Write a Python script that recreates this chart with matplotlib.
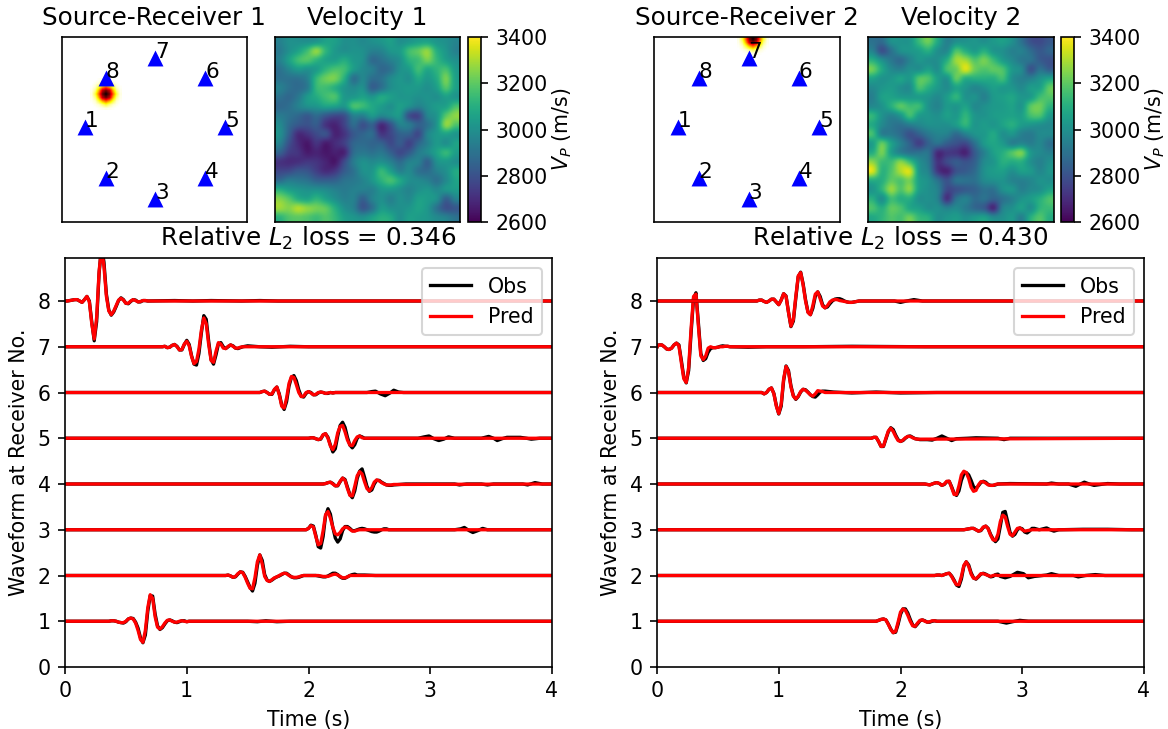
import numpy as np
import matplotlib
matplotlib.use("Agg")
import matplotlib.pyplot as plt

W, H = 1168, 729
DPI = 148

receivers = ['1', '2', '3', '4', '5', '6', '7', '8']
rec_x = [0.127, 0.238, 0.508, 0.778, 0.886, 0.778, 0.508, 0.238]
rec_y = [0.513, 0.24, 0.125, 0.24, 0.513, 0.78, 0.885, 0.78]
source_1 = (0.24, 0.69)
source_2 = (0.53, 0.99)
loss_1 = 0.346
loss_2 = 0.430

# source spot
spot = [
    [0, 0, .01, .02, .03, .02, .01, 0, 0],
    [0, .02, .05, .12, .2, .12, .05, .02, 0],
    [.01, .05, .2, .38, .5, .38, .2, .05, .01],
    [.02, .12, .38, .72, .85, .72, .38, .12, .02],
    [.03, .2, .5, .85, 1, .85, .5, .2, .03],
    [.02, .12, .38, .72, .85, .72, .38, .12, .02],
    [.01, .05, .2, .38, .5, .38, .2, .05, .01],
    [0, .02, .05, .12, .2, .12, .05, .02, 0],
    [0, 0, .01, .02, .03, .02, .01, 0, 0],
]

# velocity maps (m/s) on a coarse grid, top row first
vel_1 = [
    [2950, 3000, 3000, 3000, 3020, 3060, 3050, 3000, 3000, 2980, 3000, 3020, 3050, 3000, 3020, 3050, 3060, 3020, 3000, 2960],
    [2930, 3000, 3060, 3150, 3260, 3120, 3030, 3000, 3010, 3000, 2950, 2960, 3020, 3040, 3150, 3200, 3260, 3100, 3020, 2950],
    [2950, 3050, 3150, 3180, 3120, 3060, 3050, 3090, 3030, 3000, 2880, 2900, 2950, 3000, 3110, 3150, 3230, 3130, 3050, 3000],
    [2900, 2970, 3030, 3010, 3040, 3120, 3170, 3150, 3040, 2980, 2940, 2870, 2900, 3000, 3040, 3150, 3080, 3120, 3160, 3040],
    [2900, 2900, 2900, 2950, 3130, 3220, 3230, 3100, 2900, 2970, 2890, 2900, 2980, 3020, 3000, 3080, 3030, 3090, 3230, 3060],
    [2950, 2900, 2880, 2930, 3130, 3150, 3100, 3020, 2980, 3000, 2850, 2900, 2990, 3020, 3030, 3030, 3000, 3050, 3180, 3060],
    [2900, 2870, 2920, 3030, 3090, 3150, 3170, 3030, 3030, 3060, 3020, 3080, 3050, 3020, 3020, 3000, 3010, 3000, 3050, 3020],
    [2870, 2890, 2950, 3000, 3020, 3060, 3050, 3020, 3160, 3140, 3080, 3040, 3000, 3050, 3000, 2950, 3000, 3040, 3060, 3160],
    [2930, 2900, 2870, 2830, 2880, 2820, 2780, 2800, 2950, 2950, 3030, 2970, 3000, 3020, 2800, 2770, 2960, 3020, 3190, 3260],
    [2980, 2880, 2820, 2800, 2830, 2720, 2680, 2760, 2880, 2800, 2850, 2700, 2800, 2950, 2930, 2850, 2900, 3020, 3260, 3180],
    [3000, 2850, 2700, 2720, 2780, 2800, 2680, 2720, 2820, 2860, 2880, 2730, 2770, 2850, 2850, 2780, 2960, 3030, 3060, 3020],
    [2950, 2800, 2700, 2650, 2720, 2660, 2700, 2750, 2860, 2880, 2860, 2850, 2780, 2830, 2760, 2860, 2950, 3030, 3000, 3060],
    [2850, 2750, 2720, 2660, 2680, 2650, 2670, 2680, 2880, 2920, 2900, 2920, 2850, 2780, 2830, 2930, 2980, 3060, 3130, 3050],
    [2720, 2700, 2710, 2730, 2720, 2680, 2650, 2780, 2930, 3000, 2980, 3000, 2950, 2880, 2950, 2950, 2850, 3000, 3030, 3000],
    [2770, 2780, 2820, 2810, 2750, 2700, 2730, 2830, 2900, 3000, 3020, 3130, 3050, 2950, 2980, 2900, 2880, 2950, 3000, 3080],
    [2880, 2930, 2920, 2900, 2850, 2840, 2850, 2900, 2920, 2960, 3020, 3110, 3160, 3080, 3000, 2980, 2950, 2900, 2980, 3060],
    [3100, 3050, 3020, 3000, 3000, 2980, 2950, 2930, 2950, 2950, 2950, 3020, 3030, 3000, 2960, 3000, 3020, 2980, 3020, 3040],
    [3250, 3190, 3100, 3070, 3120, 3060, 3000, 2950, 2950, 2850, 2950, 3000, 2950, 3000, 2980, 3050, 3040, 3000, 2850, 2950],
    [3280, 3250, 3300, 3260, 3230, 3200, 3100, 3000, 2950, 2820, 2900, 3030, 3000, 3000, 3020, 3060, 3020, 2900, 2800, 2820],
    [3120, 3180, 3200, 3180, 3150, 3180, 3130, 3050, 3020, 3000, 3050, 3100, 3080, 3000, 3050, 3040, 3020, 2980, 2950, 2900],
]
vel_2 = [
    [2900, 2880, 3000, 3010, 3020, 3140, 3220, 3080, 2950, 3000, 3010, 3020, 3000, 3030, 3050, 3000, 2900, 2800, 2780, 2820],
    [2950, 2800, 2900, 3000, 3020, 3050, 3100, 3000, 2980, 3170, 3100, 3040, 3100, 3020, 3000, 2950, 2950, 2880, 2820, 2860],
    [3100, 3000, 2920, 2880, 2960, 3020, 3000, 3000, 3100, 3280, 3280, 3180, 3230, 3140, 3040, 2980, 2920, 2900, 2830, 2800],
    [3220, 3080, 2980, 2950, 3000, 3000, 3050, 3000, 3160, 3220, 3350, 3220, 3180, 3200, 3170, 3030, 2980, 2810, 2900, 2840],
    [3060, 3010, 3020, 3060, 3030, 3180, 3170, 3050, 3010, 3200, 3100, 3100, 3100, 3100, 3150, 3000, 2950, 2950, 3010, 3060],
    [2980, 3020, 3040, 3000, 2990, 3160, 3100, 3030, 2990, 3060, 3020, 2970, 3000, 3050, 3030, 3020, 2980, 3040, 3060, 3200],
    [2950, 3050, 3060, 3040, 3030, 3040, 3020, 2980, 3040, 3120, 3010, 3010, 2950, 3030, 3050, 3070, 3020, 3040, 3150, 3180],
    [2980, 3010, 3100, 3190, 3150, 3140, 3010, 2960, 3030, 3020, 3060, 2980, 3000, 3030, 3040, 3060, 3020, 3190, 3220, 3120],
    [3120, 3010, 2960, 3020, 3150, 3040, 3020, 3000, 3050, 3030, 3120, 3020, 3010, 3040, 3050, 3060, 3050, 3160, 3170, 3040],
    [3080, 2980, 2920, 2900, 2940, 2970, 3000, 3000, 3000, 3040, 3120, 3020, 3040, 3020, 3060, 3100, 3040, 3020, 3000, 2980],
    [3150, 2950, 2930, 2880, 2800, 2850, 2920, 2960, 2950, 2880, 2950, 3010, 3030, 3080, 3000, 3020, 2950, 2930, 2980, 2980],
    [3050, 3200, 3060, 2950, 2850, 2750, 2850, 2900, 2840, 2800, 2780, 2900, 3030, 3070, 3030, 2950, 2970, 2940, 2970, 2900],
    [3100, 3230, 3050, 2950, 2900, 2900, 2900, 2700, 2730, 2720, 2680, 2830, 2950, 3050, 3100, 3180, 3230, 3030, 2980, 2950],
    [3260, 3150, 3150, 3250, 3150, 3000, 2920, 2720, 2780, 2830, 2800, 2850, 2980, 3020, 3100, 3090, 3100, 3000, 2950, 3000],
    [3350, 3120, 3180, 3300, 3340, 3030, 2950, 2730, 2680, 2800, 2830, 2880, 3000, 3040, 3050, 3000, 3050, 3030, 2970, 3020],
    [3100, 3100, 3200, 3180, 3230, 3050, 3000, 2900, 2800, 2900, 2900, 2900, 2980, 3000, 3010, 2960, 2950, 2970, 3010, 3000],
    [3020, 3120, 3270, 3180, 3250, 3050, 3000, 2950, 2780, 2800, 2830, 2850, 2900, 2900, 3000, 3020, 2950, 2980, 3000, 3060],
    [3100, 3000, 3150, 3100, 3100, 3000, 3000, 2950, 2720, 2900, 2950, 2880, 2900, 2850, 2900, 2950, 3010, 3040, 3100, 3170],
    [3170, 3100, 3200, 3170, 3080, 3050, 3000, 3000, 2950, 2980, 2930, 2870, 2830, 2700, 2950, 3000, 3050, 3000, 3120, 3140],
    [3080, 3120, 3180, 3160, 3220, 3130, 3100, 3000, 3020, 3040, 3000, 3030, 3050, 2980, 3000, 3030, 2950, 3100, 3180, 3100],
]

# waveforms: start time of the wiggle, samples every 0.02 s, then a few
# later points of the small arrivals seen only in the black curve
dt = 0.02

l1_t0 = 0.34
l1_pred = [0, 0, .01, .01, 0, -.02, -.03, -.03, 0, .05, .07, .05, -.04, -.2, -.4, -.46, -.2, .3, .58, .5, .1, -.13, -.17, -.12, -.04, .02, .03, 0, -.02, -.02, 0, .01, 0, -.01, 0]
l1_obs = [0, 0, .01, .01, 0, -.02, -.03, -.04, -.01, .05, .07, .06, -.02, -.15, -.36, -.47, -.3, .22, .56, .55, .16, -.1, -.18, -.14, -.06, .01, .03, .01, -.02, -.03, -.01, .01, .01, -.01, 0]
l1_tail_t = [1.5, 1.58, 1.65, 1.74, 1.85]
l1_tail = [0, -.01, .01, -.01, 0]

l2_t0 = 1.30
l2_pred = [0, 0, .01, -.01, -.04, -.02, .04, .08, .06, -.04, -.17, -.28, -.29, -.05, .3, .45, .25, -.02, -.11, -.13, -.09, -.05, -.03, 0, .03, .05, .04, 0, -.03, -.04, -.04, -.03, -.01, 0, 0,
           0, 0, 0, 0, 0, -.01, -.02, -.02, -.02, 0, .02, .03, .01, -.02, -.05, -.05, -.03, 0, 0, 0, 0]
l2_obs = [0, 0, .01, -.01, -.04, -.03, .03, .08, .07, -.02, -.14, -.26, -.34, -.17, .22, .45, .33, .02, -.1, -.13, -.1, -.06, -.03, -.01, .02, .05, .05, .01, -.03, -.05, -.05, -.04, -.02, 0, 0,
          0, 0, 0, 0, -.01, -.02, -.03, -.03, -.01, .02, .05, .05, .02, -.03, -.06, -.06, -.03, 0, .02, .03, .01]
l2_tail_t = [2.46, 2.55, 2.7, 2.9]
l2_tail = [.01, 0, 0, 0]

l3_t0 = 1.96
l3_pred = [0, 0, .03, .09, .06, -.15, -.33, -.3, -.02, .33, .4, .25, .05, -.09, -.11, -.06, .02, .06, .05, .01, -.03, -.03, -.01, 0]
l3_obs = [0, 0, .03, .1, .08, -.12, -.37, -.4, -.15, .3, .46, .34, .05, -.18, -.27, -.2, -.02, .07, .07, .03, -.02, -.02, 0, .02, .03, .02, 0, -.02, -.04, -.05, -.05, -.03, 0, .02, .02, 0]
l3_tail_t = [3.2, 3.25, 3.28, 3.32, 3.35, 3.39, 3.43, 3.47]
l3_tail = [0, .02, .05, -.02, -.06, -.02, .03, 0]

l4_t0 = 2.10
l4_pred = [0, 0, .01, .03, .04, 0, -.04, -.03, .06, .13, .08, -.1, -.25, -.26, -.05, .18, .27, .22, .05, -.1, -.15, -.08, .04, .09, .07, .03, 0, -.02, -.02, -.02, -.01]
l4_obs = [0, 0, .01, .03, .04, .01, -.04, -.04, .05, .13, .1, -.07, -.23, -.3, -.15, .12, .28, .33, .15, -.05, -.16, -.13, 0, .08, .08, .04, .01, -.02, -.03, -.03, -.02]
l4_tail_t = [2.8, 3.2, 3.24, 3.3, 3.42, 3.47, 3.52, 3.76, 3.8, 3.86, 3.92]
l4_tail = [0, 0, -.02, 0, 0, -.02, 0, 0, -.02, .03, 0]

l5_t0 = 1.98
l5_pred = [0, 0, .01, .01, -.01, -.03, -.01, .08, .1, 0, -.17, -.25, -.13, .12, .26, .28, .14, -.04, -.15, -.16, -.05, .03, .05, .01, 0, 0]
l5_obs = [0, 0, .01, .01, -.01, -.03, -.02, .07, .1, .02, -.15, -.3, -.23, .05, .28, .35, .24, .02, -.15, -.21, -.14, 0, .05, .03, 0, 0]
l5_tail_t = [2.6, 2.9, 2.95, 2.99, 3.03, 3.07, 3.11, 3.15, 3.2, 3.42, 3.48, 3.52, 3.55, 3.59, 3.63, 3.74, 3.79, 3.83, 3.9]
l5_tail = [0, 0, .03, .05, -.01, -.05, -.02, .03, 0, 0, .04, 0, -.05, -.01, .02, .02, 0, -.02, 0]

l6_t0 = 1.58
l6_pred = [0, 0, .02, .03, 0, -.04, -.03, .07, .12, -.05, -.3, -.34, -.12, .2, .35, .33, .17, 0, -.09, -.08, 0, .02, -.01, -.05, -.04, 0, .01, 0, -.02, -.01, 0, -.01, 0]
l6_obs = [0, 0, .02, .03, 0, -.04, -.04, .06, .12, -.03, -.27, -.37, -.2, .14, .33, .37, .26, .06, -.08, -.1, -.02, .02, 0, -.05, -.05, -.01, .01, 0, -.02, -.02, 0, -.01, 0]
l6_tail_t = [2.48, 2.52, 2.55, 2.59, 2.63, 2.67, 2.7, 2.74, 2.78]
l6_tail = [0, .02, .03, -.03, -.07, -.01, .05, .01, 0]

l7_t0 = 0.78
l7_pred = [0, 0, .01, -.02, -.01, .03, .05, 0, -.07, -.06, .06, .12, .02, -.22, -.37, -.32, -.05, .36, .63, .5, .05, -.3, -.34, -.1, .09, .06, -.03, -.04, .01, .04, .01, -.03, -.03, -.01, 0, 0, 0]
l7_obs = [0, 0, .01, -.02, -.01, .03, .05, .01, -.07, -.07, .05, .14, .05, -.2, -.38, -.4, -.15, .3, .68, .6, .12, -.28, -.38, -.18, .06, .09, 0, -.04, 0, .04, .02, -.03, -.04, -.02, 0, .01, .02]
l7_tail_t = [1.6, 1.7, 1.85, 2.0]
l7_tail = [0, -.01, .01, 0]

l8_t0 = 0.0
l8_pred = [0, 0, .01, .02, .03, .03, 0, -.03, .03, .1, -.02, -.5, -.83, -.35, .65, 1.15, .75, .1, -.22, -.3, -.22, -.1, .02, .06, .02, -.05, -.05, 0, .03, .01, -.02, -.01, .01, .01, 0]
l8_obs = [0, 0, .01, .02, .03, .03, 0, -.03, .03, .1, 0, -.46, -.87, -.45, .6, 1.2, .85, .15, -.2, -.31, -.24, -.12, .01, .07, .03, -.05, -.06, -.01, .03, .02, -.02, -.02, .01, .01, 0]
l8_tail_t = [0.9, 1.05, 1.2, 1.45, 1.6, 1.75, 1.9]
l8_tail = [.01, 0, .01, 0, .01, 0, 0]

r1_t0 = 1.78
r1_pred = [0, 0, .02, .04, .05, .03, -.07, -.18, -.25, -.22, -.02, .2, .27, .24, .13, 0, -.1, -.11, -.04, .02, .03, 0, -.02, -.01, .01, .01, 0]
r1_obs = [0, 0, .02, .04, .05, .03, -.06, -.17, -.25, -.24, -.07, .15, .27, .27, .18, .04, -.08, -.12, -.06, .01, .03, .01, -.02, -.02, 0, .01, 0]
r1_tail_t = [2.8, 2.87, 2.92, 2.98, 3.05, 3.2]
r1_tail = [0, -.04, -.01, .02, 0, 0]

r2_t0 = 2.28
r2_pred = [0, .01, .01, 0, .02, .04, .05, -.02, -.12, -.2, -.2, -.02, .22, .3, .2, .03, -.06, -.07, -.02, .04, .04, .02, 0, -.02, 0, .01, 0]
r2_obs = [0, .01, .01, 0, .02, .04, .05, -.01, -.1, -.21, -.24, -.08, .2, .3, .23, .06, -.05, -.08, -.03, .03, .05, .03, 0, -.03, -.02, .02, .03]
r2_tail_t = [2.82, 2.86, 2.9, 2.96, 3.01, 3.05, 3.1, 3.2, 3.24, 3.3, 3.42, 3.46, 3.52, 3.6, 3.68]
r2_tail = [-.02, -.05, -.02, .07, .04, -.05, -.02, .01, .04, 0, 0, -.03, 0, .02, 0]

r3_t0 = 2.52
r3_pred = [0, .01, .02, .03, .03, 0, -.03, -.01, .06, .08, .02, -.12, -.22, -.23, -.1, .18, .32, .28, .07, -.1, -.13, -.05, .03, .04, 0, -.03, -.02, -.01, 0]
r3_obs = [0, .01, .02, .03, .03, 0, -.03, -.02, .05, .08, .03, -.1, -.2, -.26, -.2, .08, .38, .4, .18, -.06, -.14, -.1, 0, .04, .02, -.05, -.07, -.03, .03]
r3_tail_t = [3.1, 3.14, 3.17, 3.2, 3.23, 3.26, 3.3, 3.5, 3.7, 3.9]
r3_tail = [.03, 0, .02, .04, 0, -.03, 0, .01, .01, 0]

r4_t0 = 2.20
r4_pred = [0, -.01, -.02, 0, .02, .03, .01, -.03, 0, .06, .06, -.08, -.23, -.23, -.04, .2, .28, .25, .12, -.07, -.16, -.14, -.02, .05, .05, .02, -.02, -.03, -.03, -.01, 0]
r4_obs = [0, -.01, -.02, 0, .02, .03, .01, -.03, -.01, .05, .06, -.06, -.2, -.25, -.15, .08, .22, .25, .2, .08, -.06, -.1, -.04, .03, .06, .04, -.01, -.03, -.03, -.02, 0]
r4_tail_t = [2.9, 3.2, 3.24, 3.3, 3.38, 3.44, 3.47, 3.51, 3.55, 3.59, 3.7, 3.8]
r4_tail = [.01, 0, .02, 0, 0, -.05, -.01, .04, 0, -.03, .01, 0]

r5_t0 = 1.76
r5_pred = [0, .02, .02, -.07, -.18, -.17, 0, .16, .22, .15, .04, -.05, -.07, -.04, .01, .04, .04, .01, -.01, -.02, -.02, -.02]
r5_obs = [0, .02, .02, -.07, -.18, -.18, -.02, .14, .23, .19, .07, -.03, -.07, -.05, 0, .04, .05, .02, -.01, -.02, -.03, -.03]
r5_tail_t = [2.22, 2.26, 2.3, 2.34, 2.38, 2.42, 2.46, 2.55, 2.62, 2.8, 2.85, 2.9, 3.1]
r5_tail = [-.03, -.04, 0, .05, 0, -.05, -.01, 0, .01, 0, -.03, 0, 0]

r6_t0 = 0.84
r6_pred = [0, 0, -.03, 0, .07, .1, -.03, -.3, -.46, -.25, .3, .57, .45, .12, -.08, -.14, -.08, .02, .07, .05, 0, -.05, -.08, -.03, .04, .03, .02, 0]
r6_obs = [0, 0, -.03, 0, .07, .1, -.02, -.28, -.47, -.3, .26, .58, .48, .15, -.07, -.15, -.09, .01, .07, .06, .01, -.05, -.09, -.1, -.05, .01, .03, .03]
r6_tail_t = [1.45, 1.6, 1.8, 2.0, 2.3, 2.5]
r6_tail = [.01, -.01, .01, -.01, 0, 0]

r7_t0 = 0.0
r7_pred = [.03, .04, .04, 0, -.05, -.06, -.03, .04, .08, .02, -.35, -.7, -.78, -.45, .4, 1.1, 1.15, .45, -.2, -.28, -.2, -.03, 0, -.02, -.02, -.01, 0, 0, .01, .01, 0]
r7_obs = [.03, .04, .04, 0, -.05, -.06, -.03, .04, .08, .04, -.3, -.66, -.79, -.52, .3, 1.05, 1.18, .52, -.15, -.3, -.26, -.12, -.04, -.02, -.02, -.01, .01, .02, .01, .01, 0]
r7_tail_t = [0.75, 0.9, 1.2, 1.6, 2.2]
r7_tail = [-.01, 0, 0, .01, 0]

r8_t0 = 0.82
r8_pred = [0, .02, .02, -.01, -.03, 0, .04, .04, -.02, -.08, .02, .16, .1, -.25, -.55, -.4, .1, .55, .62, .35, 0, -.25, -.3, -.1, .15, .2, .05, -.11, -.15, -.1, -.02, .02, .03, .03, .01, 0, -.01, -.02, -.03, -.03, -.02, -.01, 0]
r8_obs = [0, .02, .02, -.01, -.03, 0, .04, .04, -.02, -.08, .02, .16, .11, -.24, -.56, -.44, .06, .53, .63, .38, .03, -.24, -.3, -.16, .1, .2, .1, -.08, -.15, -.13, -.06, 0, .04, .05, .05, .03, 0, -.02, -.03, -.03, -.02, -.01, 0]
r8_tail_t = [1.95, 2.0, 2.05, 2.11, 2.18, 2.5]
r8_tail = [0, -.03, 0, .03, 0, 0]

left_traces = [
    (l1_t0, l1_pred, l1_obs, l1_tail_t, l1_tail), (l2_t0, l2_pred, l2_obs, l2_tail_t, l2_tail),
    (l3_t0, l3_pred, l3_obs, l3_tail_t, l3_tail), (l4_t0, l4_pred, l4_obs, l4_tail_t, l4_tail),
    (l5_t0, l5_pred, l5_obs, l5_tail_t, l5_tail), (l6_t0, l6_pred, l6_obs, l6_tail_t, l6_tail),
    (l7_t0, l7_pred, l7_obs, l7_tail_t, l7_tail), (l8_t0, l8_pred, l8_obs, l8_tail_t, l8_tail),
]
right_traces = [
    (r1_t0, r1_pred, r1_obs, r1_tail_t, r1_tail), (r2_t0, r2_pred, r2_obs, r2_tail_t, r2_tail),
    (r3_t0, r3_pred, r3_obs, r3_tail_t, r3_tail), (r4_t0, r4_pred, r4_obs, r4_tail_t, r4_tail),
    (r5_t0, r5_pred, r5_obs, r5_tail_t, r5_tail), (r6_t0, r6_pred, r6_obs, r6_tail_t, r6_tail),
    (r7_t0, r7_pred, r7_obs, r7_tail_t, r7_tail), (r8_t0, r8_pred, r8_obs, r8_tail_t, r8_tail),
]


def px_axes(fig, x0, x1, y0, y1):
    # rectangle given in image pixels, y measured from the top
    return fig.add_axes([x0 / W, 1 - y1 / H, (x1 - x0) / W, (y1 - y0) / H])


def draw_geometry(ax, source, title):
    r = 0.085
    ax.imshow(spot, cmap='hot_r', vmin=0, vmax=1, interpolation='bilinear', origin='lower',
              extent=[source[0] - r, source[0] + r, source[1] - r, source[1] + r], zorder=1)
    ax.scatter(rec_x, rec_y, marker='^', s=60, color='b', linewidths=0, zorder=2)
    for i, name in enumerate(receivers):
        ax.text(rec_x[i], rec_y[i], name, fontsize=10.5, zorder=3)
    ax.set_xlim(0, 1)
    ax.set_ylim(0, 1)
    ax.set_aspect('auto')
    ax.set_xticks([])
    ax.set_yticks([])
    ax.set_title(title, fontsize=12)


def draw_velocity(ax, cax, vel, title, label):
    im = ax.imshow(vel, cmap='viridis', vmin=2600, vmax=3400, interpolation='catrom', aspect='auto')
    ax.set_xticks([])
    ax.set_yticks([])
    ax.set_title(title, fontsize=12)
    cb = fig.colorbar(im, cax=cax, ticks=[2600, 2800, 3000, 3200, 3400])
    cb.set_label(label, labelpad=1.5)


def full_trace(t0, amps, tail_t, tail, rec):
    t = [0.0] + [t0 + dt * k for k in range(len(amps))] + list(tail_t) + [4.0]
    a = [0.0] + list(amps) + list(tail) + [0.0]
    return np.array(t), rec + np.array(a)


def draw_waves(ax, traces, loss):
    for k, (t0, pred, obs, tail_t, tail) in enumerate(traces):
        rec = k + 1
        t_obs, y_obs = full_trace(t0, obs, tail_t, tail, rec)
        t_pred, y_pred = full_trace(t0, pred, [], [], rec)
        ax.plot(t_obs, y_obs, color='k', lw=1.6, label='Obs' if k == 0 else None)
        ax.plot(t_pred, y_pred, color='r', lw=1.6, label='Pred' if k == 0 else None)
    ax.set_xlim(0, 4)
    ax.set_ylim(0, 8.94)
    ax.set_xticks([0, 1, 2, 3, 4])
    ax.set_yticks(range(9))
    ax.set_xlabel('Time (s)')
    ax.set_ylabel('Waveform at Receiver No.')
    ax.set_title('Relative $L_2$ loss = %.3f' % loss, fontsize=12)
    ax.legend(loc='upper right')


fig = plt.figure(figsize=(W / DPI, H / DPI), dpi=DPI)

draw_geometry(px_axes(fig, 61.5, 246.5, 37, 222), source_1, 'Source-Receiver 1')
draw_velocity(px_axes(fig, 275, 460, 37, 222), px_axes(fig, 468, 481, 37, 222), vel_1, 'Velocity 1', '$V_P$ (m/s)')
draw_waves(px_axes(fig, 65, 552, 258, 667), left_traces, loss_1)

draw_geometry(px_axes(fig, 654.5, 840, 37, 222), source_2, 'Source-Receiver 2')
draw_velocity(px_axes(fig, 868, 1053.5, 37, 222), px_axes(fig, 1061, 1074, 37, 222), vel_2, 'Velocity 2', '$V_P$ (m/s)')
draw_waves(px_axes(fig, 657, 1144, 258, 667), right_traces, loss_2)

fig.savefig('out.png', dpi=DPI)
